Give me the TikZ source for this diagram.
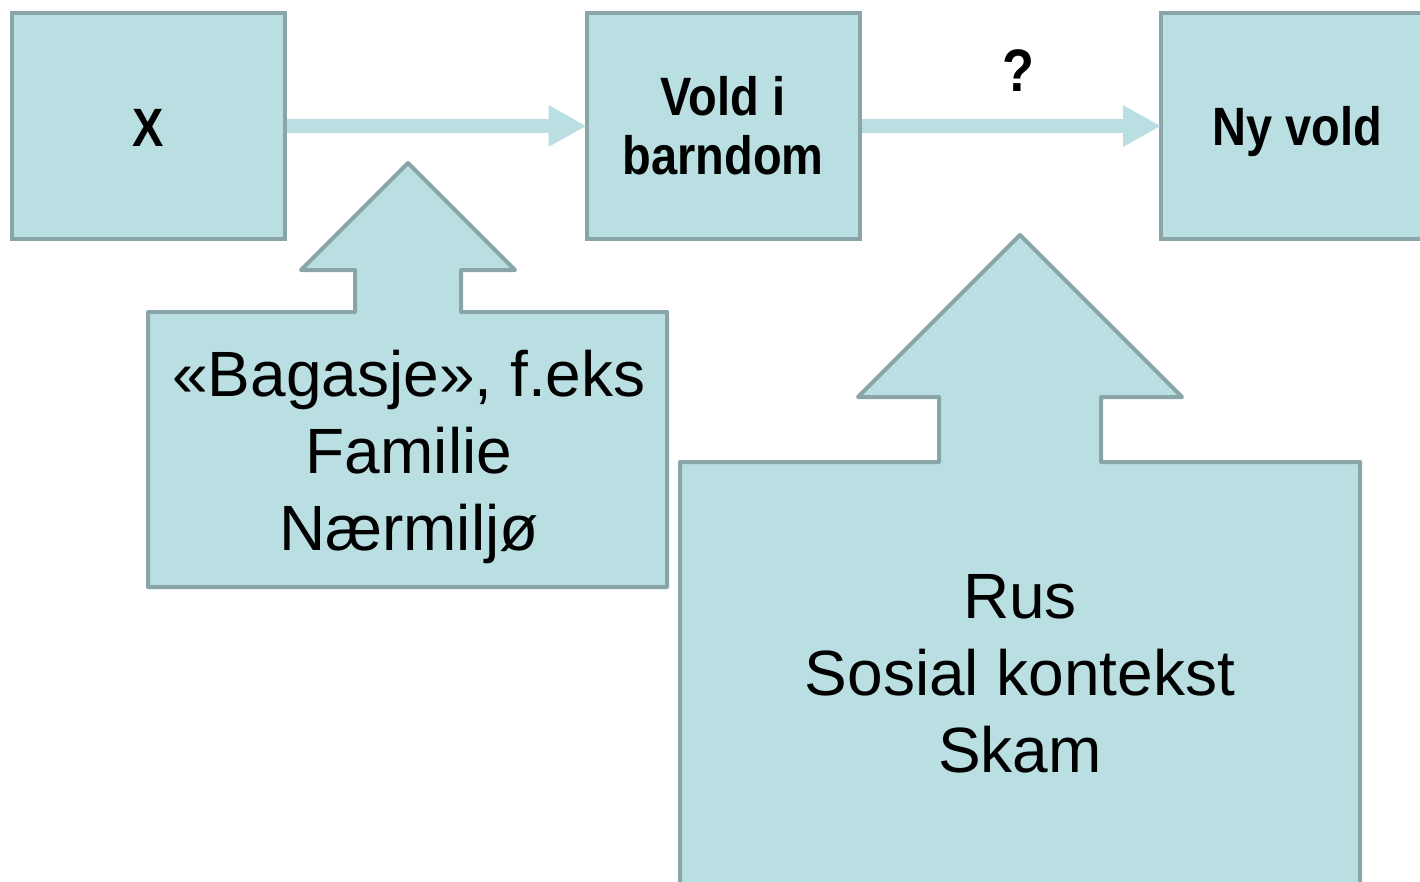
\documentclass[tikz,border=0pt]{standalone}
\usepackage{fontspec}
\setmainfont{Liberation Sans}
\newfontfamily\narrowb[FakeStretch=0.87]{Liberation Sans Bold}
\usetikzlibrary{arrows.meta}
\definecolor{boxfill}{HTML}{BADFE2}
\definecolor{boxline}{HTML}{8AA5A7}
\begin{document}
\begin{tikzpicture}[x=1pt,y=-1pt,
  topbox/.style={draw=boxline, fill=boxfill, line width=4pt, minimum width=273pt,
    minimum height=226pt, inner sep=0pt, outer sep=0pt,
    font=\narrowb\fontsize{54}{59}\selectfont, align=center},
  flowarrow/.style={draw=boxfill, line width=14pt, shorten <=2pt,
    -{Triangle[length=38pt,width=39pt]}},
  upshape/.style={draw=boxline, fill=boxfill, line width=4pt, line join=round},
  bigtext/.style={font=\fontsize{64}{77}\selectfont, align=center, inner sep=0pt},
  qlabel/.style={font=\narrowb\fontsize{60}{66}\selectfont, inner sep=0pt, anchor=base}]
\useasboundingbox (0,0) rectangle (1420,881);
\clip (0,0) rectangle (1420,881);
% top boxes
\node[topbox] (x) at (148.5,126) {\raisebox{-2pt}[\height][\depth]{X}};
\node[topbox] (vold) at (723,126) {Vold i\\barndom};
\node[topbox] (ny) at (1297.5,126) {\raisebox{-6pt}[\height][\depth]{Ny vold}};
% flow arrows
\draw[flowarrow] (x.east) -- (vold.west);
\draw[flowarrow] (vold.east) -- (ny.west);
\node[qlabel] (q) at (1018,91) {?};
% up arrow shapes
\draw[upshape] (148,587) -- (148,312) -- (355,312) -- (355,270) -- (301,270)
  -- (408,163) -- (515,270) -- (461,270) -- (461,312) -- (667,312) -- (667,587) -- cycle;
\node[bigtext] (bag) at (409,457) {«Bagasje», f.eks\\Familie\\Nærmiljø};
\draw[upshape] (680,905) -- (680,462) -- (939,462) -- (939,397) -- (858,397)
  -- (1020,235) -- (1182,397) -- (1101,397) -- (1101,462) -- (1360,462) -- (1360,905) -- cycle;
\node[bigtext] (rus) at (1020,674) {Rus\\Sosial kontekst\\Skam};
\end{tikzpicture}
\end{document}
